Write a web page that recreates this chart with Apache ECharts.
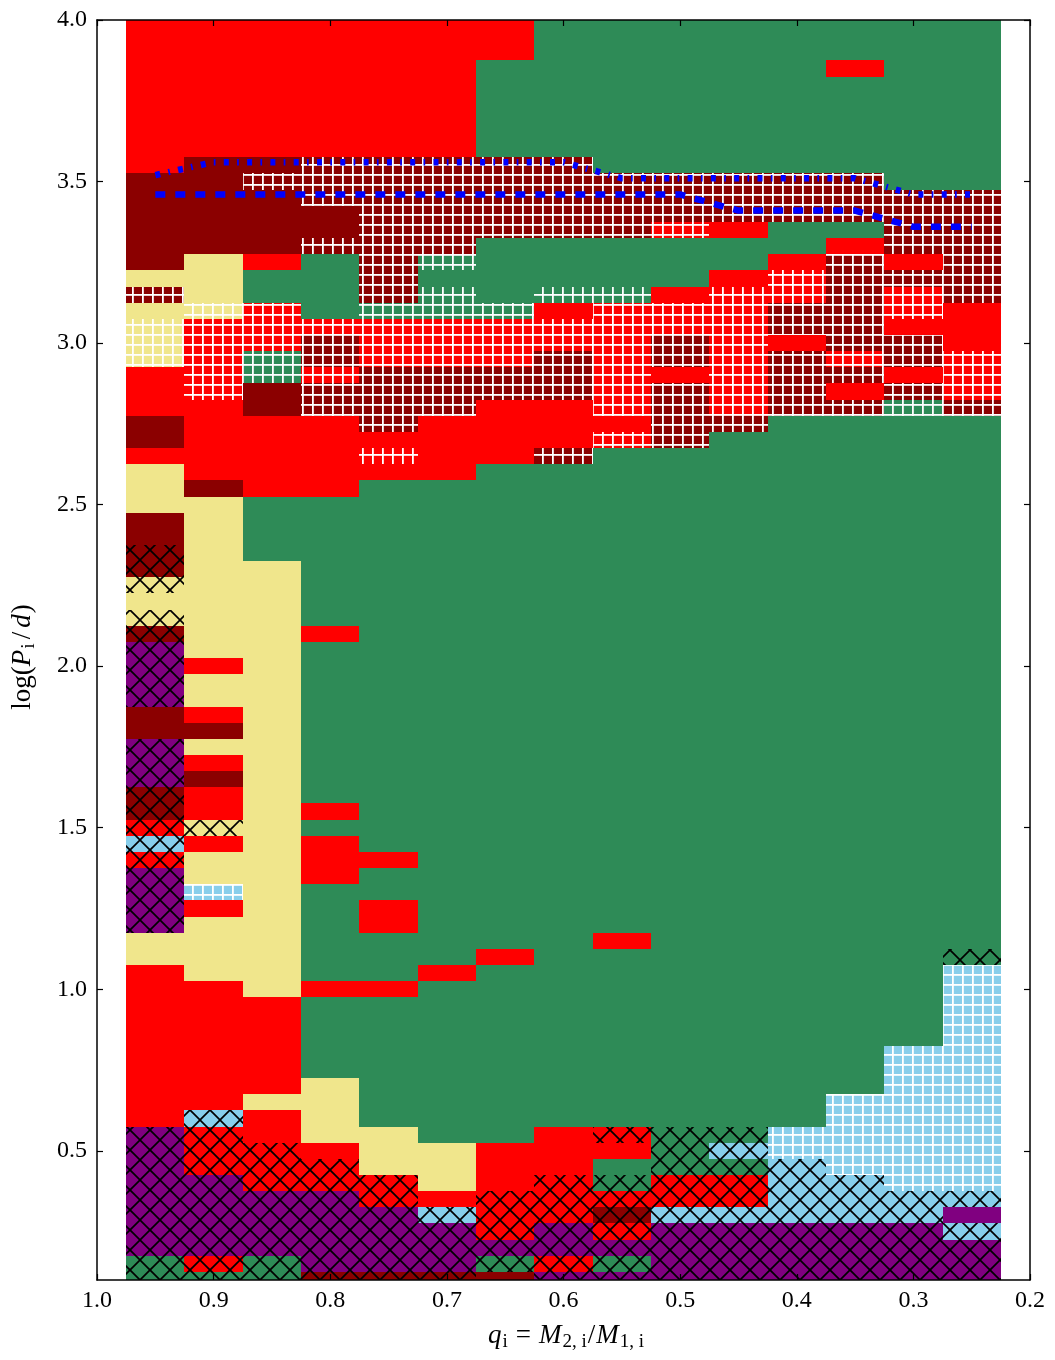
<!DOCTYPE html>
<html>
<head>
<meta charset="utf-8">
<script src="https://cdn.jsdelivr.net/npm/echarts@6/dist/echarts.min.js"></script>
<style>
  html, body { margin: 0; padding: 0; background: #ffffff; }
  #chart { width: 1055px; height: 1360px; }
</style>
</head>
<body>
<div id="chart"></div>
<script>
// Column centres of the initial mass-ratio grid, and the period grid (row centres, bottom to top)
const qValues = [0.95, 0.90, 0.85, 0.80, 0.75, 0.70, 0.65, 0.60, 0.55, 0.50, 0.45, 0.40, 0.35, 0.30, 0.25];
const qStep = 0.05;
const logPStart = 0.10;
const logPStep = 0.05;
const logPMin = 0.10;
const logPMax = 4.00;

// Outcome of every cell, as runs "<class><hatch><rows>" from the shortest period upward.
// G = green, R = red, D = dark red, K = khaki, P = purple, S = sky blue; "x" = cross hatch, "+" = grid hatch
const colQ095 = "Gx2 Px8 R10 K2 Px4 Rx1 Sx1 Rx1 Dx2 Px3 D2 Px4 Dx1 Kx1 K1 Kx1 Dx2 D2 K3 R1 D2 R3 K+3 K1 D+1 K1 D6 R10";
const colQ090 = "Gx1 Rx1 Px5 Rx3 Sx1 R8 K4 R1 S+1 K2 R1 Kx1 R2 D1 R1 K1 D1 R1 K2 R1 K10 D1 R5 R+5 K+1 K3 D6 R9";
const colQ085 = "Gx2 Px4 Rx3 R2 K1 R6 K27 G4 R5 D2 G+2 R+3 G2 R1 D4 D+1 D1 R9";
const colQ080 = "Dx1 Px5 Rx2 R1 K4 G5 R1 G6 R3 G1 R1 G10 R1 G8 R5 D+2 R+1 D+2 R+1 G4 D+1 D2 D+3 R9";
const colQ075 = "Dx1 Px4 Rx2 K3 G8 R1 G3 R2 G2 R1 G23 R1 R+1 R1 D+4 R+3 G+1 D+9 R9";
const colQ070 = "Dx1 Px3 Sx1 R1 K3 G10 R1 G30 R4 D+3 R+3 G+2 G1 G+1 D+6 R9";
const colQ065 = "D1 Gx1 Px1 Rx3 R3 G11 R1 G30 R4 D+2 R+3 G+1 G4 D+5 G6 R3";
const colQ060 = "Px1 Rx1 Px2 Rx3 R3 G41 D+1 R3 D+3 R+2 R1 G+1 G3 D+5 G9";
const colQ055 = "Px1 Gx1 Px1 Rx1 Dx1 Rx1 Gx1 G1 R1 Rx1 G11 R1 G30 R+1 R1 R+7 G+1 G3 D+4 G10";
const colQ050 = "Px4 Sx1 Rx2 Gx3 G42 D+4 R1 D+2 R+2 R1 G3 R+1 D+3 G10";
const colQ045 = "Px4 Sx1 Rx2 Gx1 Sx1 Gx1 G43 D+1 R+8 R1 G2 R1 D+3 G10";
const colQ040 = "Px4 Sx4 S+2 G44 D+4 R1 D+2 R+2 R1 G2 D+3 G10";
const colQ035 = "Px4 Sx3 S+5 G42 D+1 R1 D+1 R+1 D+6 R1 G1 D+3 G6 R1 G3";
const colQ030 = "Px4 Sx2 S+9 G39 G+1 D+1 R1 D+2 R1 R+2 D+1 R1 D+4 G11";
const colQ025 = "Px3 Sx1 P1 Sx1 S+14 Gx1 G33 D+1 R+3 R3 D+7 G11";
const columnRuns = [colQ095, colQ090, colQ085, colQ080, colQ075, colQ070, colQ065, colQ060,
                    colQ055, colQ050, colQ045, colQ040, colQ035, colQ030, colQ025];

// Boundary curves drawn across the grid
const upperLogP = [3.52, 3.56, 3.56, 3.56, 3.56, 3.56, 3.56, 3.56, 3.51, 3.51, 3.51, 3.51, 3.51, 3.46, 3.46];
const lowerLogP = [3.46, 3.46, 3.46, 3.46, 3.46, 3.46, 3.46, 3.46, 3.46, 3.46, 3.41, 3.41, 3.41, 3.36, 3.36];

// Tick positions
const yTickValues = [0.5, 1.0, 1.5, 2.0, 2.5, 3.0, 3.5, 4.0];

const classColours = { G: '#2e8b57', R: '#ff0000', D: '#8b0000', K: '#f0e68c', P: '#800080', S: '#87ceeb' };
const classOrder = ['G', 'R', 'D', 'K', 'P', 'S'];
const hatchOrder = ['', 'x', '+'];

// Expand the runs into one record per cell: [q, logP, classIndex, hatchIndex]
const cells = [];
columnRuns.forEach((runs, ci) => {
  let k = 0;
  runs.trim().split(/\s+/).forEach(tok => {
    const m = tok.match(/^([GRDKPS])([x+]?)(\d+)$/);
    const n = parseInt(m[3], 10);
    for (let j = 0; j < n; j++, k++) {
      const logP = +(logPStart + k * logPStep).toFixed(3);
      cells.push([qValues[ci], logP, classOrder.indexOf(m[1]), hatchOrder.indexOf(m[2])]);
    }
  });
});

// Hatch tiles
function makeCross() {
  const c = document.createElement('canvas');
  c.width = 20; c.height = 20;
  const g = c.getContext('2d');
  g.strokeStyle = '#000'; g.lineWidth = 1.7;
  [-20, 0, 20].forEach(o => {
    g.beginPath(); g.moveTo(o, 0); g.lineTo(o + 20, 20); g.stroke();
    g.beginPath(); g.moveTo(o + 20, 0); g.lineTo(o, 20); g.stroke();
  });
  return c;
}
function makeGrid() {
  const c = document.createElement('canvas');
  c.width = 10; c.height = 10;
  const g = c.getContext('2d');
  g.fillStyle = '#ffffff';
  g.fillRect(2, 0, 1.8, 10);
  g.fillRect(0, 4, 10, 1.8);
  return c;
}
const hatchFills = [null, { image: makeCross(), repeat: 'repeat' }, { image: makeGrid(), repeat: 'repeat' }];

function renderCell(params, api) {
  const q = api.value(0), p = api.value(1);
  const rec = cells[params.dataIndex];
  const top = Math.min(p + logPStep / 2, logPMax);
  const bot = Math.max(p - logPStep / 2, logPMin);
  const a = api.coord([q + qStep / 2, top]);
  const b = api.coord([q - qStep / 2, bot]);
  const x0 = Math.round(Math.min(a[0], b[0])), x1 = Math.round(Math.max(a[0], b[0]));
  const y0 = Math.round(Math.min(a[1], b[1])), y1 = Math.round(Math.max(a[1], b[1]));
  const shape = { x: x0, y: y0, width: x1 - x0, height: y1 - y0 };
  const children = [{ type: 'rect', shape, style: { fill: classColours[classOrder[rec[2]]] } }];
  if (rec[3] > 0) children.push({ type: 'rect', shape, style: { fill: hatchFills[rec[3]] } });
  return { type: 'group', children };
}

// Axis titles with italic symbols and subscripts
const measureCtx = document.createElement('canvas').getContext('2d');
function mathPieces(pieces, size, subSize, subDy) {
  let x = 0;
  const kids = [];
  pieces.forEach(pc => {
    const fs = pc.sub ? subSize : size;
    const font = (pc.it ? 'italic ' : '') + fs + 'px "Liberation Serif"';
    measureCtx.font = font;
    kids.push({
      type: 'text', x: x, y: pc.sub ? subDy : 0,
      style: { text: pc.t, font: font, fill: '#000', align: 'left', verticalAlign: 'middle',
               textAlign: 'left', textVerticalAlign: 'middle' }
    });
    x += measureCtx.measureText(pc.t).width + (pc.after || 0);
  });
  kids.forEach(k => { k.x -= x / 2; });
  return kids;
}

const yTitle = mathPieces([
  { t: 'log(' }, { t: 'P', it: true, after: 1 }, { t: 'i', sub: true, after: 4 },
  { t: '/', after: 4 }, { t: 'd', it: true, after: 1 }, { t: ')' }
], 27, 19, 6);
const xTitle = mathPieces([
  { t: 'q', it: true, after: 1 }, { t: 'i', sub: true, after: 8 }, { t: '=', after: 8 },
  { t: 'M', it: true, after: 1 }, { t: '2, i', sub: true, after: 1 }, { t: '/', after: 1 },
  { t: 'M', it: true, after: 1 }, { t: '1, i', sub: true }
], 27, 19, 6);

const fontFamily = '"Liberation Serif", serif';
const axisLineStyle = { color: '#000', width: 1.5 };
const tickStyle = { color: '#000', width: 1.2 };

const chart = echarts.init(document.getElementById('chart'), null, { renderer: 'canvas' });
chart.setOption({
  animation: false,
  backgroundColor: '#ffffff',
  grid: { left: 97, right: 25, top: 20, bottom: 80, containLabel: false },
  xAxis: [
    {
      type: 'value', position: 'bottom', min: 0.2, max: 1.0, interval: 0.1, inverse: true, z: 10,
      axisLine: { show: true, onZero: false, lineStyle: axisLineStyle },
      axisTick: { show: true, inside: true, length: 6, lineStyle: tickStyle },
      axisLabel: { show: true, margin: 9, color: '#000', fontFamily, fontSize: 24,
                   formatter: v => v.toFixed(1) },
      splitLine: { show: false }
    },
    {
      type: 'value', position: 'top', min: 0.2, max: 1.0, interval: 0.1, inverse: true, z: 10,
      axisLine: { show: true, onZero: false, lineStyle: axisLineStyle },
      axisTick: { show: true, inside: true, length: 6, lineStyle: tickStyle },
      axisLabel: { show: false },
      splitLine: { show: false }
    }
  ],
  yAxis: [
    {
      type: 'value', position: 'left', min: logPMin, max: logPMax, z: 10,
      axisLine: { show: true, onZero: false, lineStyle: axisLineStyle },
      axisTick: { show: true, inside: true, length: 6, lineStyle: tickStyle, customValues: yTickValues },
      axisLabel: { show: true, margin: 10, color: '#000', fontFamily, fontSize: 24,
                   customValues: yTickValues, formatter: v => v.toFixed(1) },
      splitLine: { show: false }
    },
    {
      type: 'value', position: 'right', min: logPMin, max: logPMax, z: 10,
      axisLine: { show: true, onZero: false, lineStyle: axisLineStyle },
      axisTick: { show: true, inside: true, length: 6, lineStyle: tickStyle, customValues: yTickValues },
      axisLabel: { show: false, customValues: yTickValues },
      splitLine: { show: false }
    }
  ],
  series: [
    {
      type: 'custom', name: 'cells', xAxisIndex: 0, yAxisIndex: 0,
      renderItem: renderCell, data: cells, encode: { x: 0, y: 1 }, z: 2, silent: true
    },
    {
      type: 'line', name: 'upper boundary', xAxisIndex: 0, yAxisIndex: 0, z: 5,
      data: qValues.map((q, i) => [q, upperLogP[i]]),
      symbol: 'none', showSymbol: false, silent: true,
      lineStyle: { color: '#0000ff', width: 6.5, type: [5, 8.3, 1.7, 8.3], cap: 'butt' }
    },
    {
      type: 'line', name: 'lower boundary', xAxisIndex: 0, yAxisIndex: 0, z: 5,
      data: qValues.map((q, i) => [q, lowerLogP[i]]),
      symbol: 'none', showSymbol: false, silent: true,
      lineStyle: { color: '#0000ff', width: 6.5, type: [10, 10], cap: 'butt' }
    }
  ],
  graphic: [
    { type: 'group', x: 23, y: 657, rotation: Math.PI / 2, children: yTitle },
    { type: 'group', x: 566, y: 1336, children: xTitle }
  ]
});
</script>
</body>
</html>
